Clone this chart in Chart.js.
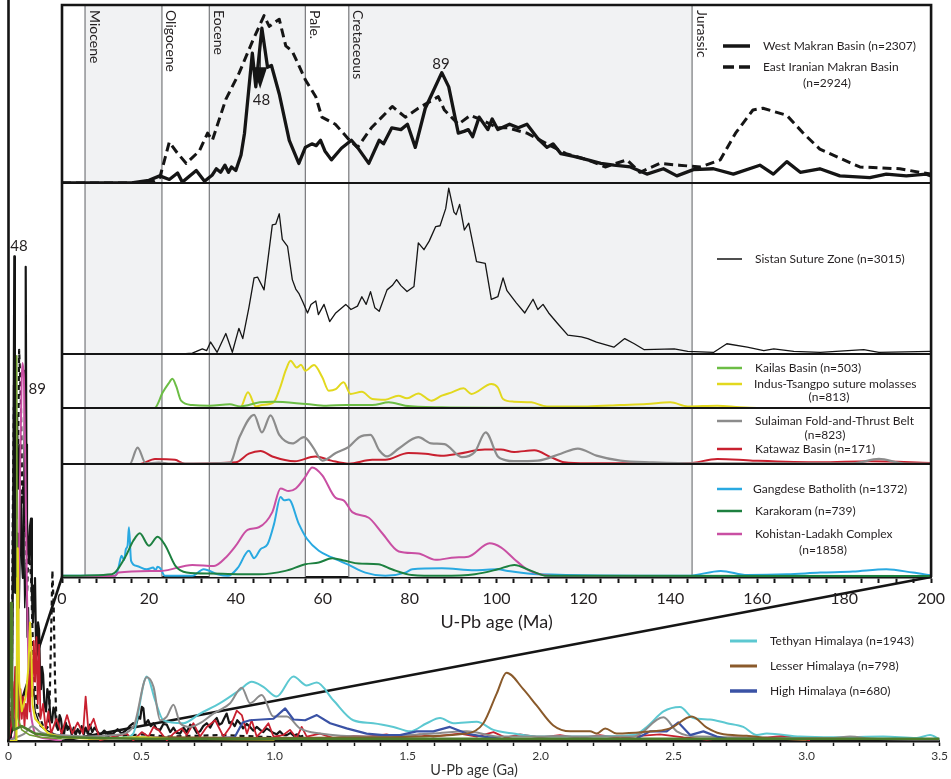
<!DOCTYPE html>
<html><head><meta charset="utf-8">
<script src="https://cdn.jsdelivr.net/npm/chart.js@4.4.1/dist/chart.umd.min.js"></script>
<style>
html,body{margin:0;padding:0;background:#fff;}
#wrap{position:relative;width:951px;height:779px;overflow:hidden;background:#fff;}
canvas{position:absolute;left:0;top:0;}
</style></head><body>
<div id="wrap">
<canvas id="main" width="951" height="779"></canvas>
<canvas id="inset" width="951" height="640"></canvas>
</div>
<script>
// ---------------- INSET DATA (age in Ma, relative probability in % of panel height) ----------------
const insetTickLabels = [0,20,40,60,80,100,120,140,160,180,200];
const epochNames  = ['Miocene','Oligocene','Eocene','Pale.','Cretaceous','Jurassic'];
const epochBounds = [5.3, 23, 33.9, 56, 66, 145];
const shadedBands = [[5.3,23],[33.9,56],[66,145]];

const westMakran = [[0,0],[16,0],[20,1.5],[22.5,4],[24.7,2],[26.6,5.6],[27.7,0.5],[30.9,7],[32.8,1],[34.6,4.5],[35.5,8],[36.5,6],[37.5,10],[38.3,6],[39,9],[40,7],[41.2,15.7],[42,28],[43,53],[43.8,73],[44.6,54],[46,87],[47.3,65],[48.2,66],[50,50],[52.3,24],[54.5,11],[56,20],[57.5,22],[58.5,21],[59.5,24],[60.5,18],[62,13],[64.3,19.5],[66.6,24],[68,20],[70.6,11],[73,24],[74,22],[75.9,31],[78,30],[79.5,33],[81.3,20],[83.6,42],[85.5,52],[87.4,62],[89,54],[91.2,28],[92.5,29],[93.5,30],[94.5,26],[96,37],[98,30],[99,36],[100.3,30],[103,33],[105,31],[107,33],[109.5,25],[111.6,20],[113,22],[114.8,16.5],[117.8,15],[121,13],[124,11],[127,10],[130.8,9],[134.6,5],[138.4,8],[141.5,4],[145.3,7.5],[149.9,8],[154.5,5],[160.6,10],[163.7,5],[166.8,12],[169.9,6],[174.4,8],[179,4],[185.9,3],[189.7,5],[194.3,4],[198.9,5],[200,4]];
const eastIranMakran = [[0,0],[18,0],[21,1],[22.5,3],[23.5,12],[24.7,23],[26.5,17],[28.6,11],[31.6,18],[33.5,28],[34.6,24],[37.7,47],[40.8,62],[43.9,80],[46.5,94],[47.7,88],[50,92],[51.5,77],[53,74],[56,58],[58.4,48.5],[59.8,37],[62.9,33],[66,24.5],[68,20],[71.2,31],[76,43],[79,37],[82,42],[86.6,48.5],[88,41],[91.2,33],[94,38],[97,35],[100.3,31],[102.6,31],[107,28],[111.6,22],[116,16.5],[121,13],[125,9],[130,13],[133,6],[137.6,11],[142,10],[146.9,9],[151.5,13],[155,28],[159,41],[161.3,42],[166.8,38],[170.6,28],[174.4,19],[179,14],[183.6,9],[192.8,8],[197.4,6],[200,5]];
const sistan = [[0,0],[27.7,0],[30,0.5],[32.3,3],[33.3,2],[34.2,7],[35.7,1],[37.7,12],[39.2,1],[40.7,15],[41.6,9],[43,27],[44.2,44.5],[45,45],[46.5,37.5],[48.4,75.5],[49.2,76],[50,82],[50.7,67],[51.9,63],[53,43.5],[53.8,38],[54.5,35.5],[55.5,30],[56.5,24],[57.3,29],[58.4,31],[59,23],[60.3,29],[61.6,19],[63,24],[65.3,29],[66.5,26],[68,28],[69,33.5],[70,29],[71,36.5],[72,27],[73,25],[74.8,37.5],[76,40],[77,43.5],[78,40],[79.4,36.5],[81,39.5],[82,65],[83.3,61],[84.5,66],[86,74.5],[87,75],[88.3,85],[89,97],[90.2,83],[90.7,81.5],[91.5,87.5],[92.6,72.5],[93.6,76.5],[95.4,54],[97.4,53],[98.8,32],[100.3,33.5],[101.5,44.5],[102.4,37],[104.5,30],[106.5,24],[108.4,32],[109.5,26],[110.7,29],[112,24],[114,18],[116.4,11],[119.5,10],[121,9],[123,7],[127,4],[129.5,9],[131.7,6],[134,2.5],[140.9,3],[144,1.5],[150,1],[153,6],[157.7,4],[161.5,2],[163.8,3],[168.4,1.5],[174.5,1],[184.5,2.5],[188,1],[200,1.5]];
const kailas = [[0,0],[21.3,0],[23.2,29],[24.5,45],[25.4,54],[26.3,40],[27.4,13.6],[30,5.5],[34,4.3],[38.6,6.8],[41,3],[45.5,10.5],[48.6,11.7],[56.2,7.4],[60.8,4.3],[65.4,5.5],[71.4,5.5],[75.2,10.5],[79,4.3],[87.4,1.2],[100,0.5],[200,0]];
const indusTsangpo = [[0,0],[41,0],[42.8,29],[44.6,3],[46,5.5],[48.7,10.5],[50.2,38],[51.5,70],[52.6,87.6],[54,75],[55,80],[56,69],[58,79.6],[59.9,56.8],[61.4,32],[63,35],[64.8,47.5],[66.4,26],[69,30],[71.4,16.7],[74.4,15.4],[77.4,22.8],[79.4,18],[82,27],[85,13.6],[87.4,22.8],[89.7,29],[92.4,36.4],[94.2,26],[98.8,44.4],[100.3,38],[101.5,16.7],[104,11.7],[108,10.5],[111.6,3],[121,3],[128.5,5.5],[134.6,7.4],[140,10.5],[144,3],[150.8,4.3],[156,1.2],[160,0],[200,0]];
const sulaiman = [[0,0],[15.6,0],[17.4,29.4],[19.3,1],[22.3,2.5],[25,0.5],[38.6,2],[40.9,49],[44.2,87.7],[46,56.4],[48,87],[50,52],[53,36.8],[55.7,47.9],[57.7,30.7],[59.9,6],[63,19.6],[66,30.7],[68.4,47.9],[71,52],[73,24.5],[74.8,13.5],[77.5,27.6],[82,47.9],[85,36.8],[88,35.6],[92,12.3],[95,21.5],[97.5,56.4],[100.3,13.5],[102,7],[104,5],[109.5,6],[114.8,18.4],[118.7,27.6],[123,15],[128.5,6],[136,3],[146.9,1.2],[182,1.2],[188,9],[193.6,1.2],[200,0.5]];
const katawaz = [[0,0],[18,0],[21.4,9],[26,7.4],[28.3,0.5],[40,3],[43,18.4],[45.7,23.3],[48.4,13.5],[53.6,5],[58.3,13.5],[62,6],[66,0.5],[71.4,7.4],[74.4,7.4],[79.7,19.6],[83.6,18.4],[87.4,14.7],[91.2,18.4],[97.3,25.8],[101,25.8],[104,21.5],[108.7,24.5],[112.5,12.3],[115.6,3],[121,1.2],[144,1.2],[150.8,9],[159,6],[174.4,3],[185.8,5],[200,2]];
const gangdese = [[0,1],[12.2,1],[13,8.3],[13.7,18.8],[14.3,15],[14.7,24.7],[15.1,28],[15.4,44],[15.9,14.3],[17.2,9.8],[19.5,6.8],[21,8.3],[21.5,6],[22,9],[22.6,7.7],[23.7,1],[30,1],[32.6,6.8],[35.8,2.4],[38.2,1],[40.5,8.3],[43,23.2],[44.2,16.7],[45.7,24.7],[47.3,29],[48.8,47],[50.3,70.8],[51.1,67.9],[52.2,68.5],[54.5,47],[56.4,33.6],[59.1,23.2],[62.1,17.3],[66,10.7],[69.8,3.9],[74.4,1],[79,3.9],[80.6,6.8],[87.4,7.7],[95,6],[100.3,6.8],[102.6,5.4],[109.5,2.4],[144,1],[151.6,5.4],[157.7,1.8],[166.8,2.4],[174.5,3.9],[182,4.8],[189.7,6.8],[195.8,3.9],[200,1.5]];
const karakoram = [[0,1],[11.5,2.4],[14.5,17.3],[16.4,32],[17.9,38.7],[20,27.7],[22,35.7],[23.8,27.7],[26.1,9.8],[28.7,3.9],[34,3],[45.3,2.4],[51.4,5.4],[56,11.3],[59.1,12.8],[62.2,16.7],[65.2,14.3],[68.3,11.9],[72.8,11.3],[75.9,6.8],[80.5,1.8],[87.4,1],[95,2.4],[100.3,6.8],[104.1,10.7],[108,5.4],[111.6,1],[200,0.8]];
const kohistan = [[0,0.5],[12.2,1],[13,3.9],[22.9,5.4],[30,10.7],[35,9.8],[37.7,17.3],[40,27.7],[42.7,41.7],[45.3,44],[48.4,57.4],[50.3,78.3],[52.2,76],[53.8,78.3],[56,88.7],[57.6,97],[59.9,90],[63,70],[64.8,67.9],[66.8,57.4],[70.6,52.4],[73.7,38.7],[77.5,22.6],[82,20.8],[86,15.2],[90.5,17.3],[93.5,17.9],[98.4,29.8],[101,26.2],[104.1,15.8],[107,6.8],[110,2.4],[115,0.5],[200,0.3]];

// ---------------- MAIN DATA (age in Ga, relative probability in % of plot height) ----------------
const mainTickLabels = ['0','0.5','1.0','1.5','2.0','2.5','3.0','3.5'];
const mWestMakran = [[0,0],[0.006,0],[0.013,5],[0.019,40],[0.0218,65.4],[0.024,35],[0.026,20],[0.029,26],[0.032,28],[0.035,19],[0.039,18],[0.043,27],[0.047,32],[0.051,24],[0.0545,22],[0.058,30],[0.06,38],[0.0625,50],[0.0647,64],[0.067,40],[0.0695,30],[0.073,26],[0.077,24],[0.081,29],[0.0846,30],[0.088,20],[0.092,16],[0.096,21],[0.0996,22],[0.103,14],[0.107,12],[0.111,16],[0.115,15],[0.119,8],[0.122,7],[0.126,10],[0.13,9],[0.135,5],[0.141,4],[0.146,7],[0.152,6],[0.158,3],[0.1635,2.5],[0.169,4.5],[0.175,4],[0.18,2],[0.186,1.5],[0.192,3.5],[0.197,3],[0.203,1.2],[0.209,1],[0.215,2.5],[0.222,1.5],[0.23,2],[0.238,0.8],[0.245,1.8],[0.252,0.8],[0.26,1.6],[0.268,1],[0.275,2],[0.283,0.9],[0.29,1.8],[0.298,1],[0.306,2.2],[0.315,1.2],[0.323,1.8],[0.33,1.5],[0.344,0.8],[0.36,1.4],[0.375,0.9],[0.394,1.0],[0.41,1.6],[0.425,1.0],[0.444,1.5],[0.455,2.0],[0.469,2.4],[0.478,2.0],[0.488,3.3],[0.495,3.0],[0.501,4.6],[0.507,4.4],[0.513,2.2],[0.525,2.8],[0.535,2.0],[0.545,2.4],[0.557,1.6],[0.57,1.5],[0.582,2.3],[0.595,2.2],[0.608,1.2],[0.62,1.8],[0.632,1.1],[0.645,1.0],[0.658,1.8],[0.67,1.2],[0.683,2.2],[0.695,1.9],[0.708,1.1],[0.72,1.3],[0.732,2.0],[0.745,2.4],[0.758,1.8],[0.77,2.6],[0.783,3.1],[0.792,2.2],[0.802,2.4],[0.81,3.0],[0.82,3.7],[0.83,2.4],[0.839,2.6],[0.85,2.0],[0.86,2.8],[0.87,2.4],[0.882,1.7],[0.895,2.3],[0.908,1.9],[0.92,1.4],[0.933,1.9],[0.946,1.5],[0.958,1.2],[0.97,1.7],[0.983,1.4],[0.995,1.1],[1.008,0.9],[1.02,1.3],[1.033,0.8],[1.046,0.8],[1.06,1.1],[1.072,0.7],[1.085,0.9],[1.096,0.6],[1.108,0.7]];
const mSistan = [[0,0],[0.01,0],[0.014,8],[0.017,30],[0.019,48],[0.021,20],[0.025,36],[0.028,42],[0.031,30],[0.034,44],[0.037,34],[0.041,40],[0.045,28],[0.049,33],[0.053,22],[0.057,28],[0.061,18],[0.066,24],[0.07,14],[0.075,18],[0.08,9],[0.085,12],[0.09,6],[0.095,7],[0.1,4],[0.11,3],[0.12,2],[0.14,1.5],[0.17,1],[0.2,0.6],[0.3,0.4],[0.5,0.3],[1.1,0.2]];
const mEastIranMakran = [[0,0],[0.008,0],[0.012,5],[0.016,30],[0.02,45],[0.026,40],[0.03,42],[0.035,35],[0.04,52.8],[0.043,50],[0.047,45],[0.052,32],[0.056,35],[0.06,28],[0.065,30],[0.07,20],[0.075,26],[0.08,24],[0.085,22],[0.09,15],[0.095,10],[0.1,7],[0.11,4],[0.12,3],[0.13,2],[0.14,1.5],[0.15,2],[0.155,6],[0.16,14],[0.165,23],[0.17,18],[0.175,8],[0.18,3],[0.19,1.5],[0.2,1],[0.22,2],[0.25,1.2],[0.28,1.8],[0.3,1],[0.35,0.8],[0.4,0.6],[0.5,0.9],[0.6,0.6],[0.8,0.8],[1.0,0.5],[1.1,0.3]];
const mKohistan = [[0,0],[0.02,0.5],[0.024,1],[0.03,8],[0.036,15],[0.043,35],[0.049,48],[0.0526,51],[0.056,50],[0.058,49],[0.064,35],[0.0695,20],[0.075,10],[0.081,5],[0.092,2],[0.103,0.8],[0.15,0.3],[0.2,0]];
const mKailas = [[0,0],[0.026,0],[0.029,10],[0.031,52],[0.033,12],[0.036,3],[0.05,1.5],[0.08,0.8],[0.12,0.5],[0.2,0.3]];
const mIndusTsangpo = [[0,0],[0.03,0],[0.033,22],[0.035,26],[0.037,20],[0.04,8],[0.05,4],[0.065,6],[0.075,10],[0.081,16],[0.086,12],[0.09,5],[0.1,3],[0.15,1],[0.2,0.5],[0.3,0.3],[0.5,0.5],[0.6,0.3],[1.0,0.2]];
const mKarakoram = [[0,0.5],[0.004,8],[0.0094,18.6],[0.012,10],[0.015,3],[0.02,1.5],[0.05,2],[0.1,1],[0.2,0.5],[0.5,0.3],[3.5,0.3]];
const mKatawaz = [[0,0],[0.01,2],[0.015,8],[0.02,3],[0.025,10],[0.03,4],[0.035,9],[0.04,2],[0.045,7],[0.05,3],[0.055,6],[0.06,2],[0.065,5],[0.07,3],[0.075,9],[0.08,4],[0.085,12],[0.09,6],[0.095,13.5],[0.1,8],[0.105,14],[0.11,5],[0.115,13],[0.12,3],[0.13,5],[0.14,1.5],[0.15,4],[0.16,1],[0.18,3],[0.2,1],[0.22,3.5],[0.24,1],[0.26,2.5],[0.28,1],[0.29,6],[0.3,1.5],[0.32,3],[0.344,0.1],[0.394,0.6],[0.444,1.0],[0.469,0.1],[0.501,1.2],[0.526,0.6],[0.545,1.9],[0.564,1.5],[0.595,0.1],[0.62,1.0],[0.651,1.7],[0.67,0.8],[0.695,2.4],[0.72,0.6],[0.745,1.9],[0.777,2.8],[0.808,0.6],[0.833,1.9],[0.858,4.1],[0.877,3.5],[0.896,1.0],[0.914,2.8],[0.933,0.6],[0.958,1.5],[0.977,2.4],[0.996,0.6],[1.033,0.8],[1.058,1.5],[1.083,0.4],[1.102,1.9],[1.121,0.6],[1.171,1.0],[1.221,0.4],[1.296,0.7],[1.346,0.6],[1.421,0.9],[1.472,0.5],[1.547,0.9],[1.597,0.6],[1.697,1.0],[1.76,0.6],[1.823,1.2],[1.872,0.4],[1.885,0.6],[1.923,0.9],[1.998,0.5],[2.073,0.8],[2.148,0.4],[2.223,0.8],[2.299,0.4],[2.374,0.7],[2.449,0.9],[2.537,0.5],[2.625,0.2],[2.725,0.5],[2.825,0.4],[2.913,0.7],[3.013,0.1]];
const mSulaiman = [[0,0],[0.03,0.5],[0.06,1],[0.09,2],[0.12,1.2],[0.2,0.8],[0.3,0.6],[0.4,0.8],[0.469,1.9],[0.52,8.6],[0.545,7.3],[0.57,2.8],[0.595,3.3],[0.62,4.9],[0.645,2.4],[0.683,1.9],[0.72,2.4],[0.77,3.7],[0.795,4.2],[0.833,5.1],[0.877,7.2],[0.908,5.1],[0.952,6.2],[0.996,3.3],[1.046,3.3],[1.096,1.7],[1.171,1.0],[1.346,0.6],[1.597,1.0],[1.722,1.3],[1.847,0.6],[2.349,0.6],[2.462,3.2],[2.512,1.3],[2.6,0.6],[3.1,0.4],[3.163,0.6],[3.25,0.3],[3.5,0.2]];
const mTethyan = [[0.3,0.3],[0.44,0.5],[0.469,1.0],[0.52,8.7],[0.551,5.5],[0.582,2.8],[0.657,2.4],[0.72,3.7],[0.795,5.1],[0.87,6.9],[0.914,8.0],[0.958,7.3],[1.008,6.0],[1.071,8.7],[1.121,7.5],[1.159,7.9],[1.221,5.5],[1.296,2.8],[1.371,2.4],[1.447,1.9],[1.509,1.3],[1.572,2.4],[1.622,3.1],[1.672,2.4],[1.76,2.6],[1.823,1.5],[1.898,1.0],[1.998,0.6],[2.161,0.6],[2.349,0.8],[2.399,1.9],[2.462,4.0],[2.524,4.6],[2.574,3.1],[2.637,2.9],[2.7,2.4],[2.762,1.9],[2.813,0.8],[2.85,1.0],[2.976,0.6],[3.1,0.5],[3.288,0.6],[3.414,0.4],[3.464,0.8],[3.5,0.2]];
const mLesser = [[0.3,0.3],[0.6,0.5],[1.0,0.4],[1.4,0.5],[1.722,1.0],[1.785,2.4],[1.835,6.4],[1.872,9.2],[1.935,7.0],[1.985,4.8],[2.048,2.1],[2.111,1.3],[2.186,1.3],[2.211,1.0],[2.243,1.7],[2.286,1.0],[2.386,1.2],[2.487,1.7],[2.568,3.3],[2.625,1.8],[2.675,1.0],[2.775,0.7],[2.863,0.4],[3.0,0.1]];
const mHigh = [[0.72,0.3],[0.85,0.5],[0.88,2.5],[0.908,2.8],[0.996,3.0],[1.04,4.4],[1.071,2.9],[1.115,2.8],[1.159,3.5],[1.209,2.4],[1.271,1.7],[1.346,1.0],[1.409,0.8],[1.472,0.8],[1.534,1.3],[1.597,1.3],[1.659,1.9],[1.722,1.0],[1.785,0.6],[1.85,0.3],[1.86,null],[2.36,0.3],[2.411,1.3],[2.474,1.3],[2.518,2.5],[2.562,0.8],[2.612,1.3],[2.662,0.6],[2.7,0.3]];

// ---------------- helpers ----------------
const FONT = 'Lato, "Open Sans", sans-serif';
const pts = a => a.map(([x, y]) => ({x, y}));
function ds(label, arr, yID, color, width, dash, tension) {
  return { label, data: pts(arr), yAxisID: yID, borderColor: color, borderWidth: width,
    borderDash: dash || [], tension: tension, cubicInterpolationMode: tension ? 'monotone' : 'default',
    pointRadius: 0, fill: false, spanGaps: false, borderJoinStyle: 'round', borderCapStyle: 'butt' };
}
const panelScale = (h, w) => ({ type: 'linear', position: 'left', stack: 'panels', stackWeight: h, weight: w,
  min: 0, max: 100, offset: false, ticks: { display: false }, grid: { display: false }, border: { display: false },
  afterFit: s => { s.width = 0; } });

const C = { black: '#151515', kailas: '#6cbd45', indus: '#e2d81e', sulaiman: '#8c8c8c', katawaz: '#c8202f',
  gangdese: '#29a9e1', karakoram: '#1d8040', kohistan: '#c94fa3', tethyan: '#5cc8d1', lesser: '#8a5a2b', high: '#3a52a5', olive: '#4f7d2c' };

// ---------------- legend layouts ----------------
const insetLegend = [
  { x1: 723, x2: 750, tx: 763, y: 46, color: C.black, w: 3.5, dash: null, text: 'West Makran Basin (n=2307)' },
  { x1: 723, x2: 750, tx: 763, y: 67, color: C.black, w: 3.5, dash: [11, 5], text: 'East Iranian Makran Basin' },
  { cx: 827, y: 83, text: '(n=2924)' },
  { x1: 717, x2: 742, tx: 755, y: 259, color: C.black, w: 1.5, dash: null, text: 'Sistan Suture Zone (n=3015)' },
  { x1: 717, x2: 742, tx: 755, y: 368, color: C.kailas, w: 2.5, dash: null, text: 'Kailas Basin (n=503)' },
  { x1: 717, x2: 742, tx: 754, y: 384, color: C.indus, w: 2.5, dash: null, text: 'Indus-Tsangpo suture molasses' },
  { cx: 829, y: 397, text: '(n=813)' },
  { x1: 717, x2: 742, tx: 755, y: 421, color: C.sulaiman, w: 2.5, dash: null, text: 'Sulaiman Fold-and-Thrust Belt' },
  { cx: 825, y: 435, text: '(n=823)' },
  { x1: 717, x2: 742, tx: 755, y: 449, color: C.katawaz, w: 2.5, dash: null, text: 'Katawaz Basin (n=171)' },
  { x1: 717, x2: 742, tx: 753, y: 489, color: C.gangdese, w: 2.5, dash: null, text: 'Gangdese Batholith (n=1372)' },
  { x1: 717, x2: 742, tx: 755, y: 511, color: C.karakoram, w: 2.5, dash: null, text: 'Karakoram (n=739)' },
  { x1: 717, x2: 742, tx: 755, y: 534, color: C.kohistan, w: 2.5, dash: null, text: 'Kohistan-Ladakh Complex' },
  { cx: 823, y: 550, text: '(n=1858)' }
];
const mainLegend = [
  { x1: 730, x2: 757, tx: 770, y: 641, color: C.tethyan, w: 3, dash: null, text: 'Tethyan Himalaya (n=1943)' },
  { x1: 730, x2: 757, tx: 770, y: 666, color: C.lesser, w: 3, dash: null, text: 'Lesser Himalaya (n=798)' },
  { x1: 730, x2: 757, tx: 770, y: 691, color: C.high, w: 3.5, dash: null, text: 'High Himalaya (n=680)' }
];
function drawLegend(ctx, items) {
  ctx.save();
  ctx.font = '12px ' + FONT; ctx.fillStyle = '#231f20'; ctx.textBaseline = 'middle';
  items.forEach(it => {
    if (it.x1 !== undefined) {
      ctx.beginPath(); ctx.strokeStyle = it.color; ctx.lineWidth = it.w; ctx.setLineDash(it.dash || []);
      ctx.moveTo(it.x1, it.y); ctx.lineTo(it.x2, it.y); ctx.stroke(); ctx.setLineDash([]);
      ctx.textAlign = 'left'; ctx.fillText(it.text, it.tx, it.y);
    } else { ctx.textAlign = 'center'; ctx.fillText(it.text, it.cx, it.y); }
  });
  ctx.restore();
}

// ---------------- inset chart ----------------
const insetDecor = {
  id: 'insetDecor',
  beforeDraw(chart) {
    const { ctx, chartArea: a } = chart;
    ctx.save(); ctx.fillStyle = '#fff'; ctx.fillRect(a.left, a.top, a.right - a.left, a.bottom - a.top); ctx.restore();
  },
  beforeDatasetsDraw(chart) {
    const { ctx, chartArea: a, scales: { x } } = chart;
    ctx.save();
    ctx.fillStyle = '#f1f2f3';
    shadedBands.forEach(([s, e]) => { const x0 = x.getPixelForValue(s), x1 = x.getPixelForValue(e); ctx.fillRect(x0, a.top, x1 - x0, a.bottom - a.top); });
    ctx.strokeStyle = '#77787b'; ctx.lineWidth = 1.2;
    epochBounds.forEach(v => { const px = x.getPixelForValue(v); ctx.beginPath(); ctx.moveTo(px, a.top); ctx.lineTo(px, a.bottom); ctx.stroke(); });
    ctx.restore();
  },
  afterDatasetsDraw(chart) {
    const { ctx, chartArea: a, scales } = chart;
    const x = scales.x;
    ctx.save();
    ctx.strokeStyle = '#151515'; ctx.lineWidth = 1.8;
    ['y1', 'y2', 'y3', 'y4'].forEach(id => { const yb = scales[id].bottom; ctx.beginPath(); ctx.moveTo(a.left, yb); ctx.lineTo(a.right, yb); ctx.stroke(); });
    ctx.lineWidth = 2.6;
    ctx.beginPath(); ctx.moveTo(a.left, a.bottom); ctx.lineTo(a.left, a.top); ctx.lineTo(a.right, a.top); ctx.lineTo(a.right, a.bottom); ctx.stroke();
    ctx.fillStyle = '#231f20'; ctx.font = '14px ' + FONT; ctx.textAlign = 'left'; ctx.textBaseline = 'bottom';
    epochNames.forEach((n, i) => {
      const px = x.getPixelForValue(epochBounds[i]);
      ctx.save(); ctx.translate(px + 2, a.top + 5); ctx.rotate(Math.PI / 2); ctx.fillText(n, 0, 0); ctx.restore();
    });
    const y1 = scales.y1;
    const ax = x.getPixelForValue(45.6);
    ctx.strokeStyle = '#151515'; ctx.lineWidth = 1.2;
    ctx.beginPath(); ctx.moveTo(ax, y1.getPixelForValue(74)); ctx.lineTo(ax, y1.getPixelForValue(64)); ctx.stroke();
    ctx.fillStyle = '#151515';
    ctx.beginPath(); ctx.moveTo(ax - 7, y1.getPixelForValue(65)); ctx.lineTo(ax + 7, y1.getPixelForValue(65)); ctx.lineTo(ax, y1.getPixelForValue(53)); ctx.closePath(); ctx.fill();
    ctx.fillStyle = '#231f20'; ctx.font = '15px ' + FONT; ctx.textAlign = 'center'; ctx.textBaseline = 'middle';
    ctx.fillText('48', x.getPixelForValue(45.9), y1.getPixelForValue(46.5));
    ctx.fillText('89', x.getPixelForValue(87.2), y1.getPixelForValue(66.5));
    ctx.restore();
    drawLegend(ctx, insetLegend);
  }
};

const insetChart = new Chart(document.getElementById('inset'), {
  type: 'line',
  data: { datasets: [
    ds('West Makran Basin', westMakran, 'y1', C.black, 3.3, null, 0),
    ds('East Iranian Makran Basin', eastIranMakran, 'y1', C.black, 3, [9, 5], 0),
    ds('Sistan Suture Zone', sistan, 'y2', C.black, 1.3, null, 0),
    ds('Kailas Basin', kailas, 'y3', C.kailas, 2, null, 0.4),
    ds('Indus-Tsangpo suture molasses', indusTsangpo, 'y3', C.indus, 2, null, 0.4),
    ds('Sulaiman Fold-and-Thrust Belt', sulaiman, 'y4', C.sulaiman, 2.2, null, 0.4),
    ds('Katawaz Basin', katawaz, 'y4', C.katawaz, 2, null, 0.4),
    ds('Karakoram', karakoram, 'y5', C.karakoram, 2, null, 0.4),
    ds('Kohistan-Ladakh Complex', kohistan, 'y5', C.kohistan, 2, null, 0.3),
    ds('Gangdese Batholith', gangdese, 'y5', C.gangdese, 2, null, 0.3)
  ] },
  options: {
    responsive: false, animation: false, devicePixelRatio: 1,
    layout: { padding: { left: 62, right: 18, top: 5, bottom: 5 } },
    plugins: { legend: { display: false }, tooltip: { enabled: false } },
    scales: {
      x: { type: 'linear', min: 0, max: 200, position: 'bottom',
        afterFit: s => { s.height = 58; },
        ticks: { stepSize: 4, autoSkip: false, maxRotation: 0, padding: 6, color: '#231f20', font: { family: FONT, size: 16 },
          callback: v => insetTickLabels.includes(Math.round(v)) ? String(Math.round(v)) : '' },
        grid: { display: true, drawOnChartArea: false, drawTicks: true, tickLength: 6, tickWidth: 2, tickColor: '#151515' },
        border: { display: true, color: '#151515', width: 2.6 },
        title: { display: true, text: 'U-Pb age (Ma)', color: '#231f20', font: { family: FONT, size: 18, lineHeight: 1.2 }, padding: { top: 0, bottom: 2 } } },
      y1: panelScale(178, 5), y2: panelScale(171, 4), y3: panelScale(54, 3), y4: panelScale(56, 2), y5: panelScale(113, 1)
    }
  },
  plugins: [insetDecor]
});

// ---------------- main chart ----------------
const mainDecor = {
  id: 'mainDecor',
  beforeDatasetsDraw(chart) {
    const { ctx, scales: { x, y } } = chart;
    const ia = insetChart.chartArea;
    ctx.save(); ctx.strokeStyle = '#151515'; ctx.lineWidth = 2.6;
    ctx.beginPath(); ctx.moveTo(x.getPixelForValue(0), y.getPixelForValue(0)); ctx.lineTo(ia.left, ia.bottom); ctx.stroke();
    ctx.beginPath(); ctx.moveTo(x.getPixelForValue(0.2), y.getPixelForValue(0)); ctx.lineTo(ia.right, ia.bottom); ctx.stroke();
    ctx.restore();
  },
  afterDatasetsDraw(chart) {
    const { ctx, chartArea: a, scales: { x, y } } = chart;
    ctx.save(); ctx.strokeStyle = '#151515'; ctx.lineWidth = 2.6;
    ctx.beginPath(); ctx.moveTo(a.left, a.top); ctx.lineTo(a.left, a.bottom); ctx.stroke();
    ctx.fillStyle = '#231f20'; ctx.font = '15px ' + FONT; ctx.textAlign = 'center'; ctx.textBaseline = 'middle';
    ctx.fillText('48', x.getPixelForValue(0.0395), y.getPixelForValue(66.8));
    ctx.fillText('89', x.getPixelForValue(0.108), y.getPixelForValue(47.5));
    ctx.restore();
    drawLegend(ctx, mainLegend);
  }
};

new Chart(document.getElementById('main'), {
  type: 'line',
  data: { datasets: [
    ds('Karakoram', mKarakoram, 'y', C.olive, 2.6, null, 0),
    ds('Indus-Tsangpo', mIndusTsangpo, 'y', C.indus, 2, null, 0),
    ds('Kailas', mKailas, 'y', '#6f9b2f', 1.6, null, 0),
    ds('Lesser Himalaya', mLesser, 'y', C.lesser, 2, null, 0.3),
    ds('High Himalaya', mHigh, 'y', C.high, 2.2, null, 0),
    ds('Sulaiman', mSulaiman, 'y', C.sulaiman, 2, null, 0.3),
    ds('Tethyan Himalaya', mTethyan, 'y', C.tethyan, 2, null, 0.3),
    ds('Katawaz', mKatawaz, 'y', C.katawaz, 1.8, null, 0),
    ds('Kohistan', mKohistan, 'y', C.kohistan, 2, null, 0.3),
    ds('East Iranian Makran', mEastIranMakran, 'y', C.black, 2.2, [5, 4], 0),
    ds('Sistan', mSistan, 'y', C.black, 1.4, null, 0),
    ds('West Makran', mWestMakran, 'y', C.black, 2.2, null, 0)
  ] },
  options: {
    responsive: false, animation: false, devicePixelRatio: 1,
    layout: { padding: { left: 8.5, right: 11, top: 0, bottom: 0 } },
    plugins: { legend: { display: false }, tooltip: { enabled: false } },
    scales: {
      x: { type: 'linear', min: 0, max: 3.5, position: 'bottom',
        afterFit: s => { s.height = 38; },
        ticks: { stepSize: 0.1, autoSkip: false, maxRotation: 0, padding: 3, color: '#333', font: { family: FONT, size: 12 },
          callback: v => { const r = Math.round(v * 10); return r % 5 === 0 ? mainTickLabels[r / 5] : ''; } },
        grid: { display: true, drawOnChartArea: false, drawTicks: true, tickLength: 5, tickWidth: 1.5, tickColor: '#151515' },
        border: { display: true, color: '#151515', width: 2.6 },
        title: { display: true, text: 'U-Pb age (Ga)', color: '#333', font: { family: FONT, size: 14.5, lineHeight: 1.1 }, padding: { top: 0, bottom: 1 } } },
      y: { type: 'linear', min: 0, max: 100, display: false }
    }
  },
  plugins: [mainDecor]
});
</script>
</body></html>
